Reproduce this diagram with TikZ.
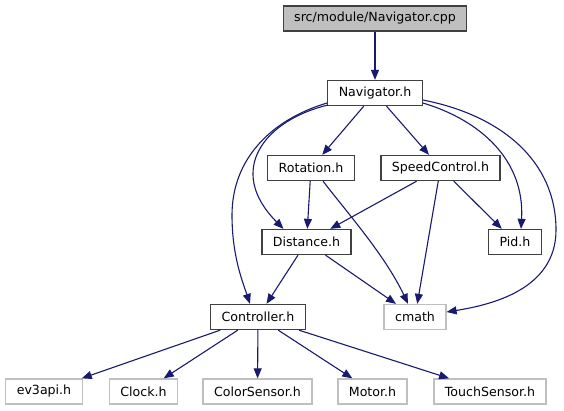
\documentclass[tikz,border=0pt]{standalone}
\usepackage{fontspec}
\setmainfont{DejaVu Sans}
\usetikzlibrary{arrows.meta,positioning}
\definecolor{edgeblue}{HTML}{191970}
\definecolor{rootfill}{HTML}{BFBFBF}
\definecolor{extline}{HTML}{BFBFBF}
\definecolor{docline}{HTML}{404040}
\tikzset{
  hdr/.style={draw=#1,fill=white,line width=1.3pt,inner xsep=11pt,inner ysep=0pt,
    minimum height=25pt,font=\fontsize{12.6}{15}\selectfont,text=black},
  hdr/.default=docline,
  ext/.style={hdr=extline},
  root/.style={hdr,fill=rootfill},
  dep/.style={-{Triangle[length=10pt,width=8pt]},line width=1.1pt,draw=edgeblue},
}
\begin{document}
\begin{tikzpicture}[x=1pt,y=-1pt]
  \useasboundingbox (0,0) rectangle (564,411);
  % files of the module
  \node[root] (cpp) at (375,18.5) {src/module/Navigator.cpp};
  \node[hdr] (nav) at (375,93) {Navigator.h};
  \node[hdr] (rot) at (311,168) {Rotation.h};
  \node[hdr] (spd) at (440.5,168) {SpeedControl.h};
  \node[hdr] (dist) at (306.5,242) {Distance.h};
  \node[hdr] (pid) at (515,242) {Pid.h};
  \node[hdr] (ctrl) at (258,317) {Controller.h};
  % system headers
  \node[ext] (cmath) at (415,317) {cmath};
  \node[ext] (ev3) at (44,391.5) {ev3api.h};
  \node[ext] (clock) at (143.5,391.5) {Clock.h};
  \node[ext] (color) at (257.5,391.5) {ColorSensor.h};
  \node[ext] (motor) at (372.5,391.5) {Motor.h};
  \node[ext] (touch) at (490,391.5) {TouchSensor.h};
  % includes
  \draw[dep] (cpp) -- (nav);
  \draw[dep] (nav) -- (rot);
  \draw[dep] (nav) -- (spd);
  \draw[dep] ([yshift=-10pt]nav.west) .. controls (270,120) and (232,160) .. (232,215)
    .. controls (232,255) and (242,280) .. ([xshift=-8pt]ctrl.north);
  \draw[dep] ([xshift=1pt,yshift=-12pt]nav.west) .. controls (265,120) and (225,170) .. ([xshift=-23pt]dist.north);
  \draw[dep] ([yshift=-10pt]nav.east) .. controls (480,120) and (525,160) .. ([xshift=6pt]pid.north);
  \draw[dep] ([yshift=-7pt]nav.east) .. controls (500,115) and (556,160) .. (556,230)
    .. controls (556,290) and (490,305) .. ([yshift=5pt]cmath.east);
  \draw[dep] (rot) -- (dist);
  \draw[dep] ([xshift=12pt]rot.south) .. controls (345,210) and (385,255) .. ([xshift=-7pt]cmath.north);
  \draw[dep] (spd) -- (dist);
  \draw[dep] (spd) -- (pid);
  \draw[dep] (spd) -- (cmath);
  \draw[dep] (dist) -- (ctrl);
  \draw[dep] (dist) -- (cmath);
  \draw[dep] (ctrl) -- (ev3);
  \draw[dep] (ctrl) -- (clock);
  \draw[dep] (ctrl) -- (color);
  \draw[dep] (ctrl) -- (motor);
  \draw[dep] (ctrl) -- (touch);
\end{tikzpicture}
\end{document}
